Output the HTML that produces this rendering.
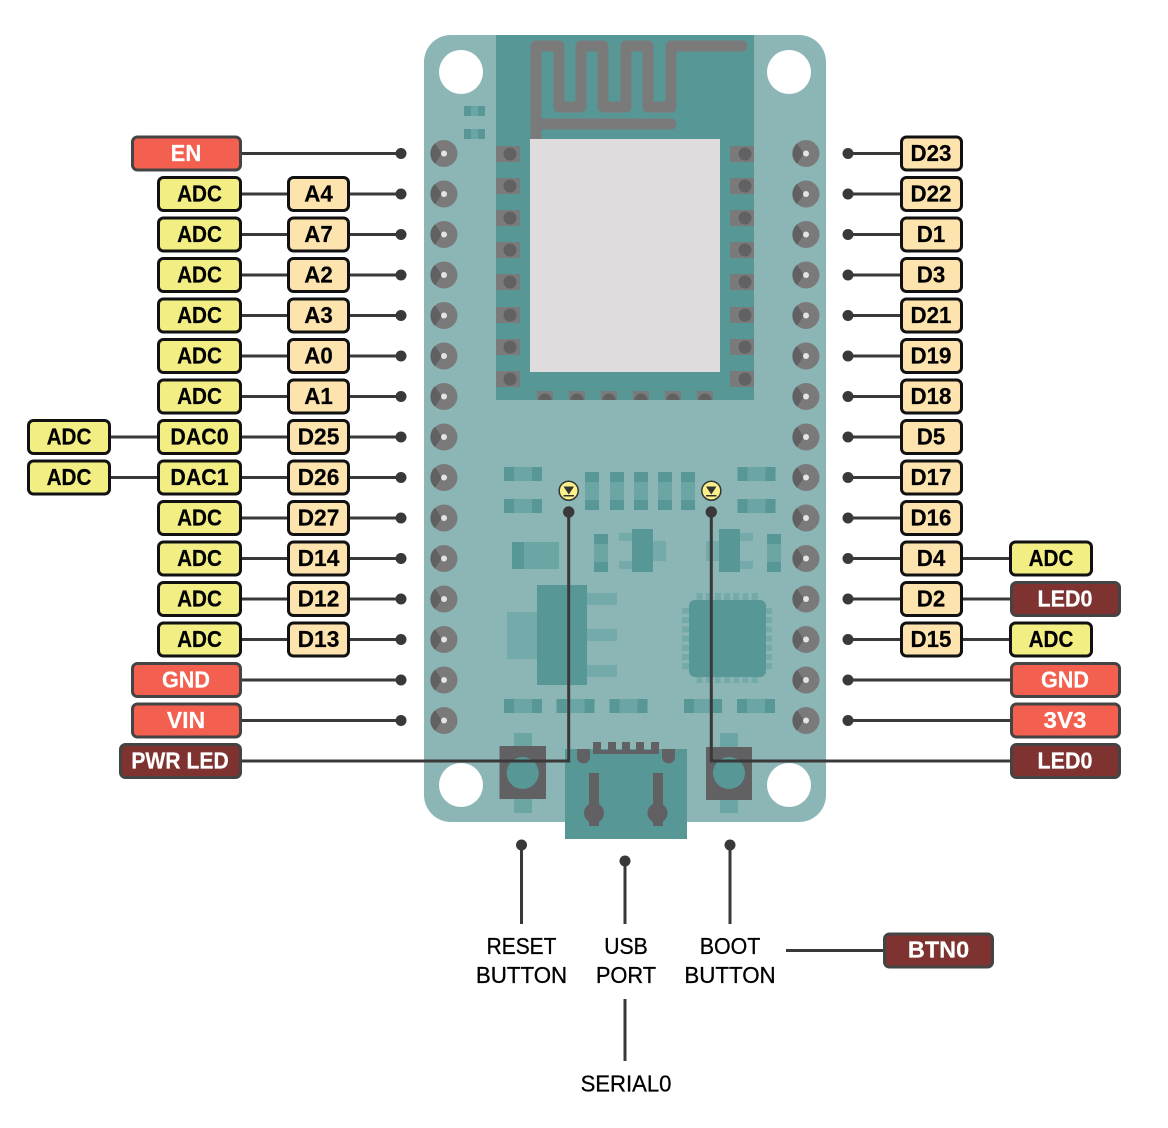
<!DOCTYPE html>
<html><head><meta charset="utf-8"><style>
html,body{margin:0;padding:0;background:#fff}
svg{display:block}
text{font-family:"Liberation Sans",sans-serif;font-size:23px;font-weight:bold;text-anchor:middle;fill:#000;stroke:#000;stroke-width:.2px}
text.w{fill:#fff;stroke:#fff}
text.n{font-weight:normal;font-size:23.5px;stroke:#000;stroke-width:.3px}
.l{stroke:#3a3838;stroke-width:3;fill:none}
.d{fill:#3a3838}
.y,.p{stroke:#111;stroke-width:3}
.y{fill:#f2ee84}.p{fill:#fde3ae}
.r,.k{stroke:#444;stroke-width:3}
.r{fill:#f4604f}.k{fill:#7e3330}
.m{fill:#579796}.t{fill:#6ba5a4}.u{fill:#74aaa9}.g{fill:#7b7a7b}.s{fill:#616163}
</style></head><body>
<svg width="1168" height="1128" viewBox="0 0 1168 1128" xmlns="http://www.w3.org/2000/svg">
<defs>
<g id="h"><circle r="13.5" fill="#7b7a7b"/><path d="M-9-10.2L-2 0-9 10.2A13.5 13.5 0 0 1-9-10.2Z" fill="#616163"/><circle r="3" fill="#e6e3e3"/></g>
<g id="a"><rect x="0" y="0" width="38" height="14" class="t"/><rect x="0" width="10" height="14" class="m"/><rect x="28" width="10" height="14" class="m"/></g>
<g id="v"><rect width="14" height="38" class="t"/><rect width="14" height="10" class="m"/><rect y="28" width="14" height="10" class="m"/></g>
<g id="pl"><rect x="496" y="-8" width="24" height="16" class="g"/><circle cx="510" r="6.5" class="s"/></g>
<g id="pr"><rect x="730" y="-8" width="24" height="16" class="g"/><circle cx="745" r="6.5" class="s"/></g>
<g id="pb"><rect y="-9" width="16" height="9" class="g"/><path d="M1.500 0A6.500 6.500 0 0 1 14.500 0Z" class="s"/></g>
<g id="E"><rect x="132.500" y="-16.500" width="108" height="33" rx="5" class="r"/></g>
<g id="Y"><rect x="158.500" y="-16.500" width="82" height="33" rx="5" class="y"/></g>
<g id="P"><rect x="288.500" y="-16.500" width="60" height="33" rx="5" class="p"/></g>
<g id="F"><rect x="28.500" y="-16.500" width="81" height="33" rx="5" class="y"/></g>
<g id="Q"><rect x="901.500" y="-16.500" width="60" height="33" rx="5" class="p"/></g>
<g id="Z"><rect x="1010.500" y="-16.500" width="81" height="33" rx="5" class="y"/></g>
<g id="R"><rect x="1011.500" y="-16.500" width="108" height="33" rx="5" class="r"/></g>
<g id="K"><rect x="1011.500" y="-16.500" width="108" height="33" rx="5" class="k"/></g>
</defs>

<!-- board -->
<rect x="424" y="35" width="402" height="787" rx="27" fill="#8bb6b5"/>
<rect x="496" y="35" width="258" height="365" class="m"/>
<path d="M536 139V46H559V107H581V46H603V107H626V46H648V107H671V46H742M536 124H671" fill="none" stroke="#7b7a7b" stroke-width="11" stroke-linecap="round" stroke-linejoin="round"/>
<rect x="530" y="139" width="190" height="233" fill="#dfdcdd"/>
<use href="#pl" y="154"/><use href="#pl" y="186"/><use href="#pl" y="218"/><use href="#pl" y="250"/><use href="#pl" y="282"/><use href="#pl" y="315"/><use href="#pl" y="347"/><use href="#pl" y="379"/>
<use href="#pr" y="154"/><use href="#pr" y="186"/><use href="#pr" y="218"/><use href="#pr" y="250"/><use href="#pr" y="282"/><use href="#pr" y="315"/><use href="#pr" y="347"/><use href="#pr" y="379"/>
<use href="#pb" x="537" y="400"/><use href="#pb" x="569" y="400"/><use href="#pb" x="601" y="400"/><use href="#pb" x="633" y="400"/><use href="#pb" x="665" y="400"/><use href="#pb" x="697" y="400"/>
<circle cx="461" cy="72" r="22" fill="#fff"/><circle cx="789" cy="72" r="22" fill="#fff"/><circle cx="461" cy="785" r="22" fill="#fff"/><circle cx="789" cy="785" r="22" fill="#fff"/>
<rect x="464" y="106" width="21" height="10" class="t"/><rect x="464" y="129" width="21" height="10" class="t"/>
<rect x="464" y="106" width="7" height="10" class="m"/><rect x="478" y="106" width="7" height="10" class="m"/><rect x="464" y="129" width="7" height="10" class="m"/><rect x="478" y="129" width="7" height="10" class="m"/>

<!-- pin holes -->
<use href="#h" x="444" y="153.500"/><use href="#h" x="444" y="194"/><use href="#h" x="444" y="234.500"/><use href="#h" x="444" y="275"/><use href="#h" x="444" y="315.500"/><use href="#h" x="444" y="356"/><use href="#h" x="444" y="396.500"/><use href="#h" x="444" y="437"/><use href="#h" x="444" y="477.500"/><use href="#h" x="444" y="518"/><use href="#h" x="444" y="558.500"/><use href="#h" x="444" y="599"/><use href="#h" x="444" y="639.500"/><use href="#h" x="444" y="680"/><use href="#h" x="444" y="720.500"/>
<use href="#h" x="806" y="153.500"/><use href="#h" x="806" y="194"/><use href="#h" x="806" y="234.500"/><use href="#h" x="806" y="275"/><use href="#h" x="806" y="315.500"/><use href="#h" x="806" y="356"/><use href="#h" x="806" y="396.500"/><use href="#h" x="806" y="437"/><use href="#h" x="806" y="477.500"/><use href="#h" x="806" y="518"/><use href="#h" x="806" y="558.500"/><use href="#h" x="806" y="599"/><use href="#h" x="806" y="639.500"/><use href="#h" x="806" y="680"/><use href="#h" x="806" y="720.500"/>

<!-- smd parts -->
<use href="#a" x="504" y="467"/><use href="#a" x="504" y="499"/><use href="#a" x="737.500" y="467"/><use href="#a" x="737.500" y="499"/>
<use href="#v" x="585" y="472"/><use href="#v" x="610" y="472"/><use href="#v" x="634" y="472"/><use href="#v" x="658" y="472"/><use href="#v" x="681" y="472"/>
<use href="#v" x="594" y="534"/><use href="#v" x="767" y="534"/>
<use href="#a" x="504" y="699"/><use href="#a" x="556.500" y="699"/><use href="#a" x="609.500" y="699"/><use href="#a" x="684" y="699"/><use href="#a" x="737" y="699"/>
<rect x="512" y="542" width="47" height="27" class="t"/><rect x="512" y="542" width="12" height="27" class="m"/>
<rect x="619" y="533" width="13" height="8" class="u"/><rect x="619" y="561" width="13" height="8" class="u"/><rect x="653" y="541" width="13" height="20" class="u"/><rect x="632" y="529" width="21" height="43" class="m"/>
<rect x="740" y="533" width="13" height="8" class="u"/><rect x="740" y="561" width="13" height="8" class="u"/><rect x="706" y="541" width="13" height="20" class="u"/><rect x="719" y="529" width="21" height="43" class="m"/>
<rect x="507" y="612" width="30" height="47" class="u"/><rect x="587" y="593" width="30" height="12" class="u"/><rect x="587" y="629" width="30" height="12" class="u"/><rect x="587" y="665" width="30" height="12" class="u"/><rect x="537" y="585" width="50" height="100" class="m"/>
<g class="u">
<rect x="696.500" y="593" width="6" height="90"/><rect x="705.700" y="593" width="6" height="90"/><rect x="714.900" y="593" width="6" height="90"/><rect x="724.100" y="593" width="6" height="90"/><rect x="733.300" y="593" width="6" height="90"/><rect x="742.500" y="593" width="6" height="90"/><rect x="751.700" y="593" width="6" height="90"/>
<rect x="682" y="608" width="90" height="6"/><rect x="682" y="617.200" width="90" height="6"/><rect x="682" y="626.400" width="90" height="6"/><rect x="682" y="635.600" width="90" height="6"/><rect x="682" y="644.800" width="90" height="6"/><rect x="682" y="654" width="90" height="6"/><rect x="682" y="663.200" width="90" height="6"/>
</g>
<rect x="689" y="600" width="77" height="77" rx="6" class="m"/>

<!-- buttons -->
<rect x="514" y="733" width="18" height="80" class="t"/><rect x="499.500" y="746" width="46.500" height="53" class="s"/><circle cx="522.700" cy="773" r="16" class="m"/>
<rect x="720" y="733" width="18" height="80" class="t"/><rect x="706" y="747" width="46" height="53" class="s"/><circle cx="729" cy="773" r="16" class="m"/>

<!-- usb -->
<rect x="565" y="749" width="122" height="90" class="m"/>
<path d="M593 742h8v8h7v-8h8v8h6v-8h8v8h6v-8h8v8h7v-8h8v12h-66Z" class="s"/>
<path d="M577 749h13v8a6.500 6.500 0 0 1-13 0ZM662 749h13v8a6.500 6.500 0 0 1-13 0Z" class="s"/>
<rect x="589" y="773" width="10" height="53" class="s"/><circle cx="594" cy="813" r="10" class="s"/>
<rect x="653" y="773" width="10" height="53" class="s"/><circle cx="657.500" cy="813" r="10" class="s"/>

<!-- LEDs -->
<circle cx="568.700" cy="490.700" r="9.500" fill="#fbf08c" stroke="#333" stroke-width="1.500"/><path d="M563.500 486.500h10.500l-5.200 8ZM563.500 495h10.500v1.500h-10.500Z" fill="#333"/>
<circle cx="711.300" cy="490.700" r="9.500" fill="#fbf08c" stroke="#333" stroke-width="1.500"/><path d="M706 486.500h10.500l-5.200 8ZM706 495h10.500v1.500h-10.500Z" fill="#333"/>
<path class="l" d="M568.700 512V761H240M711.300 512V761H1011"/>
<circle cx="568.700" cy="512" r="5.700" class="d"/><circle cx="711.300" cy="512" r="5.700" class="d"/>

<!-- left rows -->
<g transform="translate(0,153.500)"><path class="l" d="M240 0H401"/><circle cx="401" r="5.500" class="d"/><use href="#E"/><text class="w" transform="matrix(.96 0 0 1 186 7.300)">EN</text></g>
<g transform="translate(0,194)"><path class="l" d="M240 0H401"/><circle cx="401" r="5.500" class="d"/><use href="#Y"/><use href="#P"/><text transform="matrix(.9 0 0 1 199.500 7.300)">ADC</text><text transform="matrix(.97 0 0 1 318.500 7.300)">A4</text></g>
<g transform="translate(0,234.500)"><path class="l" d="M240 0H401"/><circle cx="401" r="5.500" class="d"/><use href="#Y"/><use href="#P"/><text transform="matrix(.9 0 0 1 199.500 7.300)">ADC</text><text transform="matrix(.97 0 0 1 318.500 7.300)">A7</text></g>
<g transform="translate(0,275)"><path class="l" d="M240 0H401"/><circle cx="401" r="5.500" class="d"/><use href="#Y"/><use href="#P"/><text transform="matrix(.9 0 0 1 199.500 7.300)">ADC</text><text transform="matrix(.97 0 0 1 318.500 7.300)">A2</text></g>
<g transform="translate(0,315.500)"><path class="l" d="M240 0H401"/><circle cx="401" r="5.500" class="d"/><use href="#Y"/><use href="#P"/><text transform="matrix(.9 0 0 1 199.500 7.300)">ADC</text><text transform="matrix(.97 0 0 1 318.500 7.300)">A3</text></g>
<g transform="translate(0,356)"><path class="l" d="M240 0H401"/><circle cx="401" r="5.500" class="d"/><use href="#Y"/><use href="#P"/><text transform="matrix(.9 0 0 1 199.500 7.300)">ADC</text><text transform="matrix(.97 0 0 1 318.500 7.300)">A0</text></g>
<g transform="translate(0,396.500)"><path class="l" d="M240 0H401"/><circle cx="401" r="5.500" class="d"/><use href="#Y"/><use href="#P"/><text transform="matrix(.9 0 0 1 199.500 7.300)">ADC</text><text transform="matrix(.97 0 0 1 318.500 7.300)">A1</text></g>
<g transform="translate(0,437)"><path class="l" d="M110 0H401"/><circle cx="401" r="5.500" class="d"/><use href="#F"/><use href="#Y"/><use href="#P"/><text transform="matrix(.9 0 0 1 69 7.300)">ADC</text><text transform="matrix(.93 0 0 1 199.500 7.300)">DAC0</text><text transform="matrix(.99 0 0 1 318.500 7.300)">D25</text></g>
<g transform="translate(0,477.500)"><path class="l" d="M110 0H401"/><circle cx="401" r="5.500" class="d"/><use href="#F"/><use href="#Y"/><use href="#P"/><text transform="matrix(.9 0 0 1 69 7.300)">ADC</text><text transform="matrix(.93 0 0 1 199.500 7.300)">DAC1</text><text transform="matrix(.99 0 0 1 318.500 7.300)">D26</text></g>
<g transform="translate(0,518)"><path class="l" d="M240 0H401"/><circle cx="401" r="5.500" class="d"/><use href="#Y"/><use href="#P"/><text transform="matrix(.9 0 0 1 199.500 7.300)">ADC</text><text transform="matrix(.99 0 0 1 318.500 7.300)">D27</text></g>
<g transform="translate(0,558.500)"><path class="l" d="M240 0H401"/><circle cx="401" r="5.500" class="d"/><use href="#Y"/><use href="#P"/><text transform="matrix(.9 0 0 1 199.500 7.300)">ADC</text><text transform="matrix(.99 0 0 1 318.500 7.300)">D14</text></g>
<g transform="translate(0,599)"><path class="l" d="M240 0H401"/><circle cx="401" r="5.500" class="d"/><use href="#Y"/><use href="#P"/><text transform="matrix(.9 0 0 1 199.500 7.300)">ADC</text><text transform="matrix(.99 0 0 1 318.500 7.300)">D12</text></g>
<g transform="translate(0,639.500)"><path class="l" d="M240 0H401"/><circle cx="401" r="5.500" class="d"/><use href="#Y"/><use href="#P"/><text transform="matrix(.9 0 0 1 199.500 7.300)">ADC</text><text transform="matrix(.99 0 0 1 318.500 7.300)">D13</text></g>
<g transform="translate(0,680)"><path class="l" d="M240 0H401"/><circle cx="401" r="5.500" class="d"/><use href="#E"/><text class="w" transform="matrix(.94 0 0 1 186 7.300)">GND</text></g>
<g transform="translate(0,720.500)"><path class="l" d="M240 0H401"/><circle cx="401" r="5.500" class="d"/><use href="#E"/><text class="w" transform="matrix(1 0 0 1 186 7.300)">VIN</text></g>
<g transform="translate(0,761)"><rect x="120.500" y="-16.500" width="120" height="33" rx="5" class="k"/><text class="w" transform="matrix(.92 0 0 1 180 7.300)">PWR LED</text></g>

<!-- right rows -->
<g transform="translate(0,153.500)"><path class="l" d="M848 0H902"/><circle cx="848" r="5.500" class="d"/><use href="#Q"/><text transform="matrix(.97 0 0 1 931 7.300)">D23</text></g>
<g transform="translate(0,194)"><path class="l" d="M848 0H902"/><circle cx="848" r="5.500" class="d"/><use href="#Q"/><text transform="matrix(.97 0 0 1 931 7.300)">D22</text></g>
<g transform="translate(0,234.500)"><path class="l" d="M848 0H902"/><circle cx="848" r="5.500" class="d"/><use href="#Q"/><text transform="matrix(.97 0 0 1 931 7.300)">D1</text></g>
<g transform="translate(0,275)"><path class="l" d="M848 0H902"/><circle cx="848" r="5.500" class="d"/><use href="#Q"/><text transform="matrix(.97 0 0 1 931 7.300)">D3</text></g>
<g transform="translate(0,315.500)"><path class="l" d="M848 0H902"/><circle cx="848" r="5.500" class="d"/><use href="#Q"/><text transform="matrix(.97 0 0 1 931 7.300)">D21</text></g>
<g transform="translate(0,356)"><path class="l" d="M848 0H902"/><circle cx="848" r="5.500" class="d"/><use href="#Q"/><text transform="matrix(.97 0 0 1 931 7.300)">D19</text></g>
<g transform="translate(0,396.500)"><path class="l" d="M848 0H902"/><circle cx="848" r="5.500" class="d"/><use href="#Q"/><text transform="matrix(.97 0 0 1 931 7.300)">D18</text></g>
<g transform="translate(0,437)"><path class="l" d="M848 0H902"/><circle cx="848" r="5.500" class="d"/><use href="#Q"/><text transform="matrix(.97 0 0 1 931 7.300)">D5</text></g>
<g transform="translate(0,477.500)"><path class="l" d="M848 0H902"/><circle cx="848" r="5.500" class="d"/><use href="#Q"/><text transform="matrix(.97 0 0 1 931 7.300)">D17</text></g>
<g transform="translate(0,518)"><path class="l" d="M848 0H902"/><circle cx="848" r="5.500" class="d"/><use href="#Q"/><text transform="matrix(.97 0 0 1 931 7.300)">D16</text></g>
<g transform="translate(0,558.500)"><path class="l" d="M848 0H1011"/><circle cx="848" r="5.500" class="d"/><use href="#Q"/><use href="#Z"/><text transform="matrix(.97 0 0 1 931 7.300)">D4</text><text transform="matrix(.9 0 0 1 1051 7.300)">ADC</text></g>
<g transform="translate(0,599)"><path class="l" d="M848 0H1011"/><circle cx="848" r="5.500" class="d"/><use href="#Q"/><use href="#K"/><text transform="matrix(.97 0 0 1 931 7.300)">D2</text><text class="w" transform="matrix(.935 0 0 1 1065 7.300)">LED0</text></g>
<g transform="translate(0,639.500)"><path class="l" d="M848 0H1011"/><circle cx="848" r="5.500" class="d"/><use href="#Q"/><use href="#Z"/><text transform="matrix(.97 0 0 1 931 7.300)">D15</text><text transform="matrix(.9 0 0 1 1051 7.300)">ADC</text></g>
<g transform="translate(0,680)"><path class="l" d="M848 0H1011"/><circle cx="848" r="5.500" class="d"/><use href="#R"/><text class="w" transform="matrix(.94 0 0 1 1065 7.300)">GND</text></g>
<g transform="translate(0,720.500)"><path class="l" d="M848 0H1011"/><circle cx="848" r="5.500" class="d"/><use href="#R"/><text class="w" transform="matrix(1.05 0 0 1 1065 7.300)">3V3</text></g>
<g transform="translate(0,761)"><use href="#K"/><text class="w" transform="matrix(.935 0 0 1 1065 7.300)">LED0</text></g>

<!-- bottom -->
<path class="l" d="M521.500 845V924M625 861V924M730 845V924M625 999V1061M786 950.500H885"/>
<circle cx="521.500" cy="845" r="5.500" class="d"/><circle cx="625" cy="861" r="5.500" class="d"/><circle cx="730" cy="845" r="5.500" class="d"/>
<text class="n" transform="matrix(.89 0 0 1 521.500 954)">RESET</text>
<text class="n" transform="matrix(.95 0 0 1 521.500 983)">BUTTON</text>
<text class="n" transform="matrix(.9 0 0 1 626 954)">USB</text>
<text class="n" transform="matrix(.93 0 0 1 626 983)">PORT</text>
<text class="n" transform="matrix(.91 0 0 1 730 954)">BOOT</text>
<text class="n" transform="matrix(.95 0 0 1 730 983)">BUTTON</text>
<text class="n" transform="matrix(.94 0 0 1 626 1091.500)">SERIAL0</text>
<rect x="884.500" y="934" width="108" height="33" rx="5" class="k"/>
<text class="w" transform="matrix(1.02 0 0 1 938.500 957.300)">BTN0</text>
</svg>
</body></html>
